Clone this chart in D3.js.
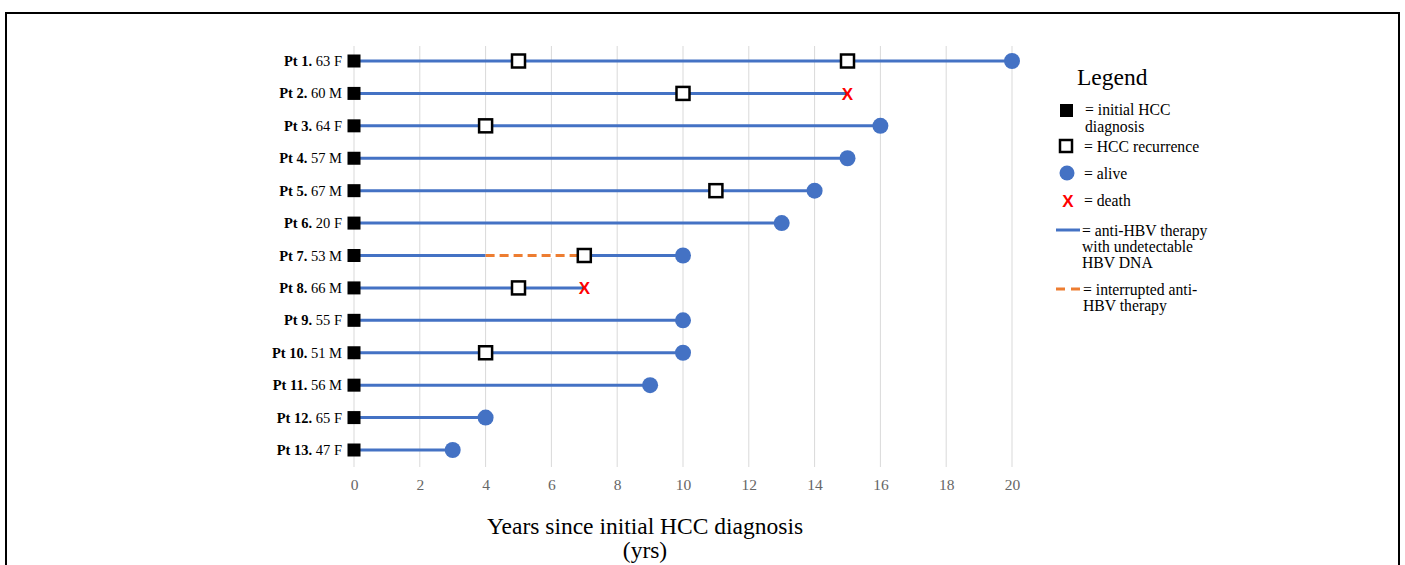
<!DOCTYPE html>
<meta charset="utf-8">
<style>
body { margin: 0; background: #fff; }
svg { display: block; font-family: "Liberation Serif", "Times New Roman", serif; }
.grid line { stroke: #d9d9d9; stroke-width: 1; }
.tick-label { fill: #666; font-size: 15.5px; }
.pt-label { font-size: 14.5px; fill: #000; }
.legend text { font-size: 15.7px; }
</style>
<svg width="1405" height="565"></svg>
<script src="https://d3js.org/d3.v7.min.js"></script>
<script>

// one entry per patient
var patients = ["Pt 1.", "Pt 2.", "Pt 3.", "Pt 4.", "Pt 5.", "Pt 6.", "Pt 7.",
                "Pt 8.", "Pt 9.", "Pt 10.", "Pt 11.", "Pt 12.", "Pt 13."];
var ageSex = ["63 F", "60 M", "64 F", "57 M", "67 M", "20 F", "53 M",
              "66 M", "55 F", "51 M", "56 M", "65 F", "47 F"];
// years of follow-up at last contact
var followUp = [20, 15, 16, 15, 14, 13, 10, 7, 10, 10, 9, 4, 3];
var outcome = ["alive", "death", "alive", "alive", "alive", "alive", "alive",
               "death", "alive", "alive", "alive", "alive", "alive"];
// HCC recurrences: [patient index, year]
var recurrences = [[0, 5], [0, 15], [1, 10], [2, 4], [4, 11], [6, 7], [7, 5], [9, 4]];
// interrupted therapy: [patient index, from year, to year]
var interrupted = [[6, 4, 7]];
var xTicks = [0, 2, 4, 6, 8, 10, 12, 14, 16, 18, 20];

var blue = "#4472c4", orange = "#ed7d31";

var svg = d3.select("svg");

// frame
svg.append("rect")
   .attr("x", 6).attr("y", 13)
   .attr("width", 1393).attr("height", 570)
   .attr("fill", "none")
   .attr("stroke", "#000")
   .attr("stroke-width", 2);

var x = d3.scaleLinear().domain([0, 20]).range([354, 1012]);
var y = d3.scalePoint().domain(d3.range(patients.length)).range([61, 450]);

// gridlines
svg.append("g").attr("class", "grid")
  .selectAll("line")
  .data(xTicks)
  .enter().append("line")
    .attr("x1", function(d) { return x(d); })
    .attr("x2", function(d) { return x(d); })
    .attr("y1", 46)
    .attr("y2", 467);

// axis labels
var xAxis = d3.axisBottom(x).tickValues(xTicks).tickSize(0).tickPadding(0);
var axisG = svg.append("g").attr("transform", "translate(0,485)").call(xAxis)
   .attr("font-family", null)
   .attr("font-size", null);
axisG.select(".domain").remove();
axisG.selectAll("text")
   .attr("class", "tick-label")
   .attr("fill", null)
   .attr("dy", "0.33em");

// therapy lines
svg.append("g")
  .selectAll("line")
  .data(d3.range(patients.length))
  .enter().append("line")
    .attr("x1", x(0))
    .attr("x2", function(i) { return x(followUp[i]); })
    .attr("y1", function(i) { return y(i); })
    .attr("y2", function(i) { return y(i); })
    .attr("stroke", blue)
    .attr("stroke-width", 3);

// interrupted segments drawn over the blue line
var intG = svg.append("g").selectAll("g").data(interrupted).enter();
intG.append("line")
    .attr("x1", function(d) { return x(d[1]); })
    .attr("x2", function(d) { return x(d[2]); })
    .attr("y1", function(d) { return y(d[0]); })
    .attr("y2", function(d) { return y(d[0]); })
    .attr("stroke", "#fff")
    .attr("stroke-width", 5);
intG.append("line")
    .attr("x1", function(d) { return x(d[1]); })
    .attr("x2", function(d) { return x(d[2]); })
    .attr("y1", function(d) { return y(d[0]); })
    .attr("y2", function(d) { return y(d[0]); })
    .attr("stroke", orange)
    .attr("stroke-width", 3)
    .attr("stroke-dasharray", "9,5");

// initial diagnosis
svg.append("g")
  .selectAll("rect")
  .data(d3.range(patients.length))
  .enter().append("rect")
    .attr("x", x(0) - 6.5)
    .attr("y", function(i) { return y(i) - 6.5; })
    .attr("width", 13).attr("height", 13)
    .attr("fill", "#000");

// recurrences
svg.append("g")
  .selectAll("rect")
  .data(recurrences)
  .enter().append("rect")
    .attr("x", function(d) { return x(d[1]) - 6.5; })
    .attr("y", function(d) { return y(d[0]) - 6.5; })
    .attr("width", 13).attr("height", 13)
    .attr("fill", "#fff")
    .attr("stroke", "#000")
    .attr("stroke-width", 2.5);

// outcomes
var ends = d3.range(patients.length);
svg.append("g")
  .selectAll("circle")
  .data(ends.filter(function(i) { return outcome[i] === "alive"; }))
  .enter().append("circle")
    .attr("cx", function(i) { return x(followUp[i]); })
    .attr("cy", function(i) { return y(i); })
    .attr("r", 8)
    .attr("fill", blue);

svg.append("g")
  .selectAll("text")
  .data(ends.filter(function(i) { return outcome[i] === "death"; }))
  .enter().append("text")
    .attr("x", function(i) { return x(followUp[i]); })
    .attr("y", function(i) { return y(i); })
    .attr("dy", "0.36em")
    .attr("text-anchor", "middle")
    .style("font-family", "'Liberation Sans', Arial, sans-serif")
    .style("font-weight", "bold")
    .style("font-size", "17px")
    .style("fill", "#ff0000")
    .text("X");

// patient labels
var lab = svg.append("g")
  .selectAll("text")
  .data(d3.range(patients.length))
  .enter().append("text")
    .attr("class", "pt-label")
    .attr("x", 342)
    .attr("y", function(i) { return y(i); })
    .attr("dy", "0.35em")
    .attr("text-anchor", "end");
lab.append("tspan").style("font-weight", "bold").text(function(i) { return patients[i]; });
lab.append("tspan").text(function(i) { return " " + ageSex[i]; });

// axis title
svg.append("text")
   .attr("x", 645).attr("y", 534)
   .attr("text-anchor", "middle")
   .style("font-size", "23.5px")
   .text("Years since initial HCC diagnosis");
svg.append("text")
   .attr("x", 645).attr("y", 558)
   .attr("text-anchor", "middle")
   .style("font-size", "23.5px")
   .text("(yrs)");

// legend
var lg = svg.append("g").attr("class", "legend");
lg.append("text").attr("x", 1077).attr("y", 85)
  .style("font-size", "23.5px").text("Legend");

lg.append("rect").attr("x", 1060).attr("y", 104).attr("width", 13).attr("height", 13).attr("fill", "#000");
lg.append("text").attr("x", 1085).attr("y", 115).text("= initial HCC");
lg.append("text").attr("x", 1085).attr("y", 132).text("diagnosis");

lg.append("rect").attr("x", 1060).attr("y", 140).attr("width", 12).attr("height", 12)
  .attr("fill", "#fff").attr("stroke", "#000").attr("stroke-width", 2.5);
lg.append("text").attr("x", 1084).attr("y", 152).text("= HCC recurrence");

lg.append("circle").attr("cx", 1067).attr("cy", 173).attr("r", 7.5).attr("fill", blue);
lg.append("text").attr("x", 1084).attr("y", 179).text("= alive");

lg.append("text").attr("x", 1068).attr("y", 207).attr("text-anchor", "middle")
  .style("font-family", "'Liberation Sans', Arial, sans-serif")
  .style("font-weight", "bold").style("font-size", "17px")
  .style("fill", "#ff0000").text("X");
lg.append("text").attr("x", 1084).attr("y", 206).text("= death");

lg.append("line").attr("x1", 1056).attr("x2", 1080).attr("y1", 230).attr("y2", 230)
  .attr("stroke", blue).attr("stroke-width", 3);
lg.append("text").attr("x", 1082).attr("y", 236).text("= anti-HBV therapy");
lg.append("text").attr("x", 1082).attr("y", 252).text("with undetectable");
lg.append("text").attr("x", 1082).attr("y", 268).text("HBV DNA");

lg.append("line").attr("x1", 1056).attr("x2", 1080).attr("y1", 289).attr("y2", 289)
  .attr("stroke", orange).attr("stroke-width", 3).attr("stroke-dasharray", "9,6");
lg.append("text").attr("x", 1083).attr("y", 295).text("= interrupted anti-");
lg.append("text").attr("x", 1083).attr("y", 311).text("HBV therapy");

</script>
